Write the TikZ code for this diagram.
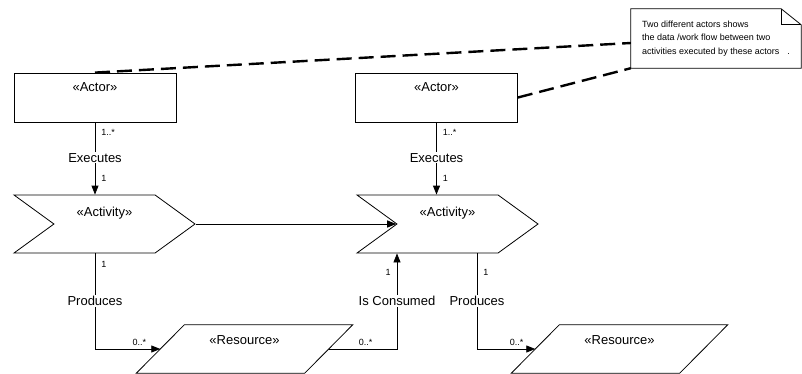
\documentclass[tikz,border=0pt]{standalone}
\usepackage{fontspec}
\setmainfont{Liberation Sans}
\usetikzlibrary{arrows.meta,calc,shapes.symbols}

\begin{document}
\begin{tikzpicture}[x=1pt,y=-1pt,
  actor/.style={draw,line width=0.8pt,minimum width=162pt,minimum height=49pt,inner sep=0pt},
  activity/.style={draw,line width=0.8pt,signal,signal to=east,signal from=west,signal pointer angle=72,minimum width=181pt,minimum height=58pt,inner sep=0pt},
  resource/.style={minimum width=168pt,minimum height=48pt,inner sep=0pt},
  stereo/.style={inner sep=0pt,anchor=north,font=\fontsize{13}{15}\selectfont},
  notebox/.style={minimum width=170pt,minimum height=59pt,inner sep=0pt,align=left,font=\fontsize{9}{13.5}\selectfont},
  ref/.style={-{Triangle[length=9pt,width=7pt]},line width=0.8pt},
  lab/.style={font=\fontsize{13}{15}\selectfont,fill=white,inner sep=1pt},
  mult/.style={font=\fontsize{9}{11}\selectfont,inner sep=1pt},
  tie/.style={line width=2.4pt,dash pattern=on 15pt off 7pt}]
\useasboundingbox (0,0) rectangle (802,374);
\node[actor,label={[stereo,yshift=-9.4pt]north:«Actor»}] (act1) at (95,97.5) {};
\node[actor,label={[stereo,yshift=-9.4pt]north:«Actor»}] (act2) at (436.5,97.5) {};
\node[activity,label={[stereo,yshift=-12.4pt]north:«Activity»}] (a1) at (104.5,224) {};
\node[activity,label={[stereo,yshift=-12.4pt]north:«Activity»}] (a2) at (447.5,224) {};
\node[resource,label={[stereo,yshift=-10.4pt]north:«Resource»}] (r1) at (244.5,349) {};
\node[resource,label={[stereo,yshift=-10.4pt]north:«Resource»}] (r2) at (619.5,349) {};
% slanted outline of the resources
\foreach \r in {r1,r2}
  \draw[line width=0.8pt] ([xshift=-24pt]\r.south west) -- ([xshift=24pt]\r.north west) -- ([xshift=24pt]\r.north east) -- ([xshift=-24pt]\r.south east) -- cycle;
\node[notebox] (note) at (716,38.5) {Two different actors shows\\the data /work flow between two\\activities executed by these actors\hspace{8pt}.};
% note outline with folded corner
\draw[line width=0.8pt] (note.north west) -- ([xshift=-20pt]note.north east) -- ([yshift=-16pt]note.north east) -- (note.south east) -- (note.south west) -- cycle;
\draw[line width=0.8pt] ([xshift=-20pt]note.north east) |- ([yshift=-16pt]note.north east);
\draw[tie] (act1.north) -- ([yshift=-4.5pt]note.west);
\draw[tie] (act2.east) -- (note.south west);
% executes
\draw[ref] (act1) -- node[mult,pos=0.14,right=5pt]{1..*} node[lab,pos=0.49]{Executes} node[mult,pos=0.77,right=5pt]{1} (act1 |- a1.north);
\draw[ref] (act2) -- node[mult,pos=0.14,right=5pt]{1..*} node[lab,pos=0.49]{Executes} node[mult,pos=0.77,right=5pt]{1} (act2 |- a2.north);
% flow between activities
\draw[ref] (a1) -- (a2);
% produces / consumes
\draw[ref] (act1.south |- a1.south) |- node[mult,pos=0.06,right=5pt]{1} node[lab,pos=0.25]{Produces} node[mult,pos=0.84,above=2pt]{0..*} (r1);
\draw[ref] (r1) -| node[mult,pos=0.27,above=2pt]{0..*} node[lab,pos=0.75]{Is Consumed} node[mult,pos=0.9,left=5pt]{1} ($(a2.south)+(-50.5,0)$);
\draw[ref] ($(a2.south)+(29.5,0)$) |- node[mult,pos=0.1,right=5pt]{1} node[lab,pos=0.25]{Produces} node[mult,pos=0.84,above=2pt]{0..*} (r2);
\end{tikzpicture}
\end{document}
